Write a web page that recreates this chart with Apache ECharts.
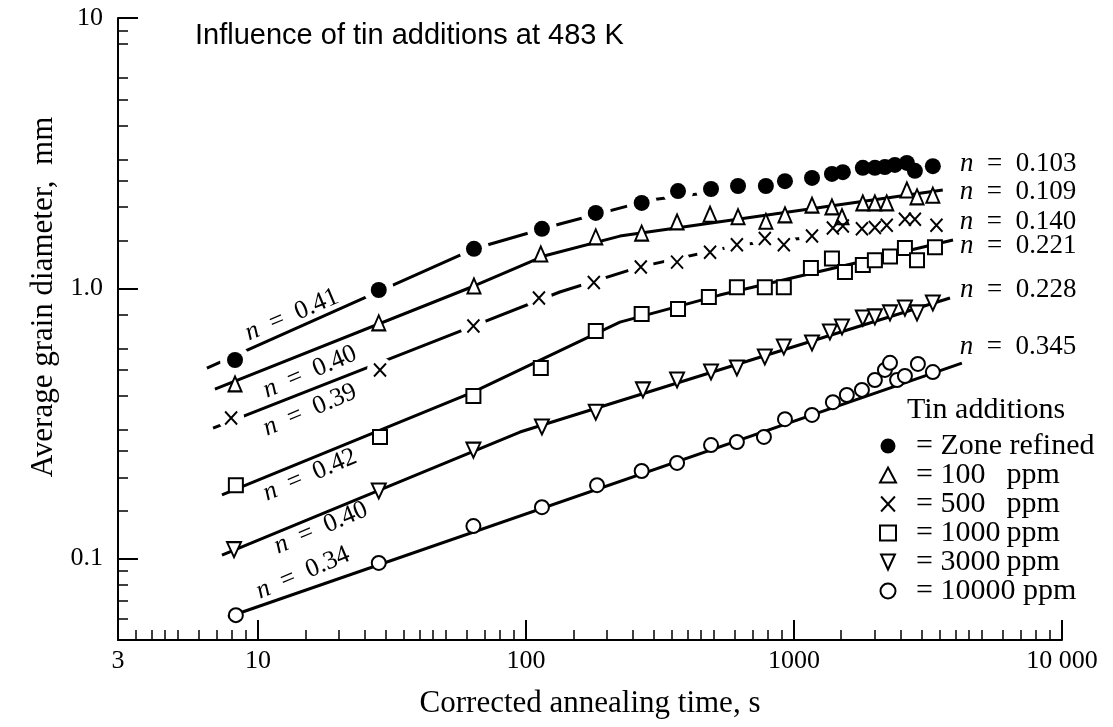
<!DOCTYPE html>
<html><head><meta charset="utf-8">
<script src="https://cdn.jsdelivr.net/npm/echarts@6/dist/echarts.min.js"></script>
<style>html,body{margin:0;padding:0;background:#fff}#c{width:1113px;height:727px}</style>
</head><body><div id="c"></div>
<script>
// ---------- data ----------
const xTickLabels = [3, 10, 100, 1000, 10000];
const yTickLabels = [0.1, 1, 10];
const xMinorTicks = [3.5,4,4.5,5,6,7,8,9,15,20,25,30,35,40,45,50,60,70,80,90,150,200,250,300,350,400,450,500,600,700,800,900,1500,2000,2500,3000,3500,4000,4500,5000,6000,7000,8000,9000];
const yMinorTicks = [0.06,0.07,0.08,0.09,0.15,0.2,0.25,0.3,0.4,0.5,0.6,0.8,1.5,2,2.5,3,4,5,6,8,9];

const seriesNames = ['Zone refined', '100 ppm', '500 ppm', '1000 ppm', '3000 ppm', '10000 ppm'];

const zoneTime = [8.2, 28.2, 63.9, 114.6, 182, 270, 369, 490, 618, 785, 925, 1167, 1385, 1521, 1806, 2003, 2183, 2379, 2637, 2825, 3296];
const zoneDiam = [0.543, 0.986, 1.40, 1.66, 1.90, 2.07, 2.29, 2.33, 2.39, 2.39, 2.49, 2.56, 2.65, 2.69, 2.79, 2.79, 2.81, 2.86, 2.91, 2.72, 2.83];

const ppm100Time = [8.2, 28.2, 63.9, 113.5, 182, 270, 366, 486, 618, 785, 925, 1167, 1385, 1510, 1806, 2003, 2218, 2637, 2877, 3296];
const ppm100Diam = [0.443, 0.745, 1.02, 1.34, 1.55, 1.60, 1.76, 1.88, 1.84, 1.77, 1.87, 2.03, 2.00, 1.84, 2.07, 2.07, 2.07, 2.31, 2.18, 2.21];

const ppm500Time = [7.93, 28.5, 63.6, 111.7, 179, 268, 366, 486, 612, 778, 916, 1167, 1396, 1521, 1792, 2003, 2218, 2593, 2825, 3400];
const ppm500Diam = [0.331, 0.499, 0.726, 0.92, 1.05, 1.20, 1.25, 1.36, 1.45, 1.53, 1.45, 1.56, 1.67, 1.70, 1.66, 1.68, 1.71, 1.80, 1.80, 1.71];

const ppm1000Time = [8.26, 28.5, 63.6, 113.5, 182, 270, 369, 481, 612, 778, 916, 1156, 1385, 1549, 1806, 2003, 2281, 2593, 2877, 3357];
const ppm1000Diam = [0.187, 0.282, 0.40, 0.507, 0.695, 0.803, 0.838, 0.929, 1.01, 1.01, 1.01, 1.19, 1.29, 1.15, 1.22, 1.27, 1.31, 1.41, 1.27, 1.42];

const ppm3000Time = [8.13, 28.2, 63.6, 114.6, 182, 273, 366, 490, 612, 778, 916, 1167, 1361, 1510, 1806, 2003, 2281, 2593, 2877, 3296];
const ppm3000Diam = [0.108, 0.178, 0.252, 0.307, 0.348, 0.421, 0.458, 0.490, 0.507, 0.557, 0.607, 0.628, 0.689, 0.719, 0.776, 0.784, 0.811, 0.845, 0.811, 0.883];

const ppm10000Time = [8.26, 28.2, 63.6, 114.6, 184, 270, 366, 490, 612, 772, 925, 1167, 1396, 1574, 1792, 2003, 2183, 2281, 2424, 2593, 2899, 3296];
const ppm10000Diam = [0.0618, 0.0964, 0.132, 0.155, 0.187, 0.211, 0.226, 0.263, 0.270, 0.282, 0.328, 0.340, 0.379, 0.403, 0.421, 0.458, 0.499, 0.530, 0.458, 0.474, 0.525, 0.490];

// fitted lines
const zoneFitTime = [6.44, 64.0, 133.6, 290, 3357];
const zoneFitDiam = [0.507, 1.40, 1.73, 2.12, 2.88];
const ppm100FitTime = [6.90, 64.0, 117.5, 224, 3590];
const ppm100FitDiam = [0.424, 1.02, 1.32, 1.56, 2.31];
const ppm500FitTime = [6.79, 63.4, 133.6, 266, 629, 3500];
const ppm500FitDiam = [0.304, 0.725, 0.969, 1.20, 1.45, 1.73];
const ppm1000FitTime = [7.33, 63.4, 224, 528, 3920];
const ppm1000FitDiam = [0.172, 0.413, 0.750, 0.944, 1.51];
const ppm3000FitTime = [7.33, 94.9, 3820];
const ppm3000FitDiam = [0.1031, 0.294, 0.921];
const ppm10000FitTime = [7.72, 4230];
const ppm10000FitDiam = [0.0608, 0.529];

const lateExponents = ['0.103', '0.109', '0.140', '0.221', '0.228', '0.345'];
const earlyExponents = ['0.41', '0.40', '0.39', '0.42', '0.40', '0.34'];
const earlyLabelTime = [13.38, 15.62, 15.62, 15.62, 17.16, 14.71];
const earlyLabelDiam = [0.797, 0.490, 0.3546, 0.2039, 0.1298, 0.0885];

// ---------- build ----------
const zip = (a, b) => a.map((v, i) => [v, b[i]]);
const SERIF = 'Liberation Serif';
const points = [
  [zoneTime, zoneDiam], [ppm100Time, ppm100Diam], [ppm500Time, ppm500Diam],
  [ppm1000Time, ppm1000Diam], [ppm3000Time, ppm3000Diam], [ppm10000Time, ppm10000Diam]
];
const fits = [
  [zoneFitTime, zoneFitDiam], [ppm100FitTime, ppm100FitDiam], [ppm500FitTime, ppm500FitDiam],
  [ppm1000FitTime, ppm1000FitDiam], [ppm3000FitTime, ppm3000FitDiam], [ppm10000FitTime, ppm10000FitDiam]
];
const dashedFit = [true, false, true, false, false, false];
const endLabelOffset = [[25, 0], [17, 2], [20, -2], [7, 6], [10, -8], [-2, -16]];
const symbols = [
  {symbol: 'circle', size: 16, style: {color: '#000', opacity: 1}},
  {symbol: 'triangle', size: [13, 15], style: {color: '#fff', borderColor: '#000', borderWidth: 2, opacity: 1}},
  {symbol: 'path://M0,0L12,13M12,0L0,13', size: [12, 13], style: {color: 'rgba(0,0,0,0)', borderColor: '#000', borderWidth: 2, opacity: 1}},
  {symbol: 'rect', size: 14, style: {color: '#fff', borderColor: '#000', borderWidth: 2, opacity: 1}},
  {symbol: 'path://M0,0L12,0L6,13Z', size: [14, 15], style: {color: '#fff', borderColor: '#000', borderWidth: 2, opacity: 1}},
  {symbol: 'circle', size: 14, style: {color: '#fff', borderColor: '#000', borderWidth: 2, opacity: 1}}
];

const series = [];
fits.forEach((f, i) => {
  series.push({
    type: 'line', name: 'fit' + i, data: zip(f[0], f[1]), showSymbol: false, silent: true,
    z: dashedFit[i] ? 1 : 3,
    lineStyle: {color: '#000', width: 3},
    endLabel: {
      show: true, distance: 0, offset: endLabelOffset[i], align: 'left',
      formatter: () => '{i|n}  =  ' + lateExponents[i],
      fontFamily: SERIF, fontSize: 27, color: '#000',
      rich: {i: {fontFamily: SERIF, fontSize: 27, fontStyle: 'italic', color: '#000'}}
    }
  });
  if (dashedFit[i]) {
    series.push({
      type: 'scatter', name: 'halo' + i, data: zip(points[i][0], points[i][1]), silent: true, z: 2,
      symbol: 'circle', symbolSize: i === 0 ? 30 : 26, itemStyle: {color: '#fff', opacity: 1}
    });
  }
});
points.forEach((p, i) => {
  series.push({
    type: 'scatter', name: seriesNames[i], data: zip(p[0], p[1]), z: 4,
    symbol: symbols[i].symbol, symbolSize: symbols[i].size, itemStyle: symbols[i].style
  });
});
series.push({
  type: 'scatter', name: 'exponents', silent: true, z: 5, symbolSize: 1,
  itemStyle: {color: 'rgba(0,0,0,0)', opacity: 1},
  data: earlyExponents.map((e, i) => ({value: [earlyLabelTime[i], earlyLabelDiam[i]]})),
  label: {
    show: true, position: 'inside', rotate: 23, opacity: 1,
    formatter: (p) => '{i|n}  =  ' + earlyExponents[p.dataIndex],
    fontFamily: SERIF, fontSize: 26, color: '#000',
    rich: {i: {fontFamily: SERIF, fontSize: 26, fontStyle: 'italic', color: '#000'}}
  }
});

const axisLabelStyle = {fontFamily: SERIF, fontSize: 26, color: '#000'};
const option = {
  animation: false,
  backgroundColor: '#fff',
  title: [
    {text: 'Influence of tin additions at 483 K', left: 190, top: 16,
     textStyle: {fontFamily: 'Liberation Sans', fontSize: 29, fontWeight: 'normal', color: '#000'}},
    {text: 'Tin additions', left: 902, top: 390,
     textStyle: {fontFamily: SERIF, fontSize: 30, fontWeight: 'normal', color: '#000'}}
  ],
  legend: {
    data: seriesNames, orient: 'vertical', left: 874, top: 426, itemGap: -1,
    itemWidth: 16, itemHeight: 15, selectedMode: false,
    textStyle: {fontFamily: SERIF, fontSize: 30, color: '#000', lineHeight: 28,
      rich: {n: {fontFamily: SERIF, fontSize: 30, width: 66, color: '#000', lineHeight: 28}}},
    formatter: (name) => {
      if (name === 'Zone refined') return '  = Zone refined';
      const num = name.replace(' ppm', '');
      return num.length > 4 ? '  = ' + num + ' ppm' : '  = {n|' + num + '}ppm';
    }
  },
  grid: {left: 118, top: 18, width: 944, height: 622},
  xAxis: [
    {type: 'log', min: 3, max: 10000, gridIndex: 0,
     name: 'Corrected annealing time, s', nameLocation: 'middle', nameGap: 48,
     nameTextStyle: {fontFamily: SERIF, fontSize: 31, color: '#000'},
     axisLine: {show: true, lineStyle: {color: '#000', width: 2}},
     axisTick: {show: true, inside: true, length: 20, customValues: xTickLabels.slice(1), lineStyle: {color: '#000', width: 2}},
     axisLabel: {show: true, customValues: xTickLabels, margin: 8, ...axisLabelStyle,
       formatter: (v) => Math.abs(v - 10000) < 1 ? '10 000' : String(Math.round(v))},
     splitLine: {show: false}},
    {type: 'log', min: 3, max: 10000, gridIndex: 0, position: 'bottom',
     axisLine: {show: false},
     axisTick: {show: true, inside: true, length: 10, customValues: xMinorTicks, lineStyle: {color: '#000', width: 1.5}},
     axisLabel: {show: false}, splitLine: {show: false}}
  ],
  yAxis: [
    {type: 'log', min: 0.05, max: 10, gridIndex: 0,
     name: 'Average grain diameter,  mm', nameLocation: 'middle', nameGap: 52,
     nameTextStyle: {fontFamily: SERIF, fontSize: 31, color: '#000', padding: [0, 0, 0, 64]},
     axisLine: {show: true, lineStyle: {color: '#000', width: 2}},
     axisTick: {show: true, inside: true, length: 20, customValues: yTickLabels, lineStyle: {color: '#000', width: 2}},
     axisLabel: {show: true, customValues: yTickLabels, margin: 15, ...axisLabelStyle,
       formatter: (v) => v > 5 ? '10' : (v > 0.5 ? '1.0' : '0.1')},
     splitLine: {show: false}},
    {type: 'log', min: 0.05, max: 10, gridIndex: 0, position: 'left',
     axisLine: {show: false},
     axisTick: {show: true, inside: true, length: 10, customValues: yMinorTicks, lineStyle: {color: '#000', width: 1.5}},
     axisLabel: {show: false}, splitLine: {show: false}}
  ],
  series: series
};
const chart = echarts.init(document.getElementById('c'), null, {renderer: 'canvas'});
chart.setOption(option);
</script></body></html>
